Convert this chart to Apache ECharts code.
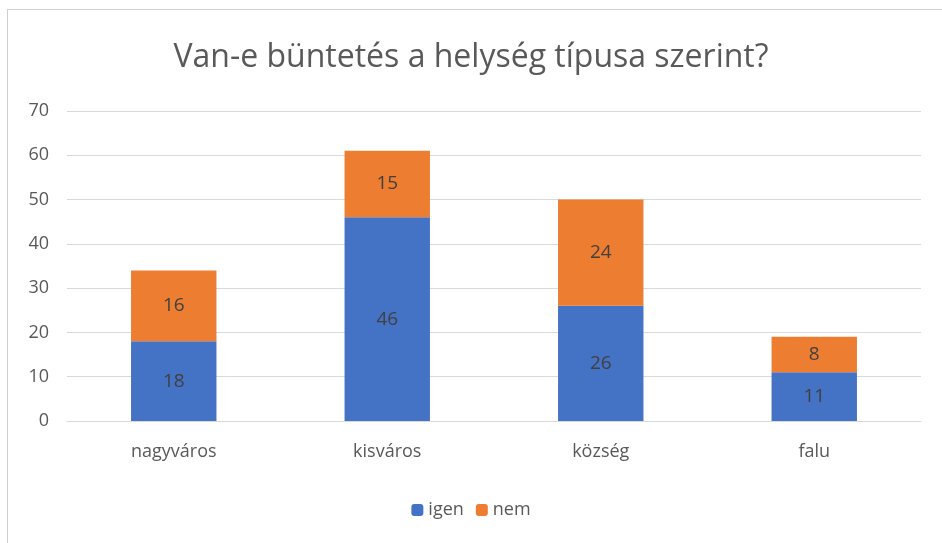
<!DOCTYPE html>
<html lang="hu">
<head>
    <meta charset="utf-8">
    <title>Van-e büntetés</title>
    <script src="https://cdn.jsdelivr.net/npm/echarts@6/dist/echarts.min.js"></script>
    <style>
        body { margin: 0; background: #fff; }
        #frame { position: absolute; left: 7px; top: 9px; width: 960px; height: 560px; border: 1px solid #d0d0d0; }
        #main { position: absolute; left: 0; top: 0; width: 942px; height: 543px; }
    </style>
</head>
<body>
    <div id="frame"></div>
    <div id="main"></div>

    <script type="text/javascript">
    var categories = ['nagyváros', 'kisváros', 'község', 'falu'];
    var igen = [18, 46, 26, 11];
    var nem = [16, 15, 24, 8];

    var font = '"Open Sans", sans-serif';
    var myChart = echarts.init(document.getElementById('main'));

    myChart.setOption({
        animation: false,
        textStyle: { fontFamily: font },
        title: {
            text: 'Van-e büntetés a helység típusa szerint?',
            left: 'center',
            top: 37,
            textStyle: { fontSize: 32, fontWeight: 'normal', color: '#595959', fontFamily: font }
        },
        legend: {
            data: ['igen', 'nem'],
            bottom: 19,
            left: 'center',
            itemWidth: 12,
            itemHeight: 12,
            itemGap: 12,
            textStyle: { fontSize: 18, color: '#595959' }
        },
        grid: { left: 67, right: 21, top: 111, bottom: 122 },
        xAxis: {
            type: 'category',
            data: categories,
            axisLine: { lineStyle: { color: '#d9d9d9' } },
            axisTick: { show: false },
            axisLabel: { fontSize: 18, color: '#595959', margin: 22 }
        },
        yAxis: {
            type: 'value',
            min: 0,
            max: 70,
            interval: 10,
            axisLine: { show: false },
            axisTick: { show: false },
            axisLabel: { fontSize: 18, color: '#595959', margin: 18 },
            splitLine: { lineStyle: { color: '#d9d9d9' } }
        },
        series: [{
            name: 'igen',
            type: 'bar',
            stack: 'total',
            barWidth: '40%',
            data: igen,
            itemStyle: { color: '#4472C4' },
            label: { show: true, position: 'inside', fontSize: 19, color: '#404040' }
        }, {
            name: 'nem',
            type: 'bar',
            stack: 'total',
            data: nem,
            itemStyle: { color: '#ED7D31' },
            label: { show: true, position: 'inside', fontSize: 19, color: '#404040' }
        }]
    });
    </script>
</body>
</html>
